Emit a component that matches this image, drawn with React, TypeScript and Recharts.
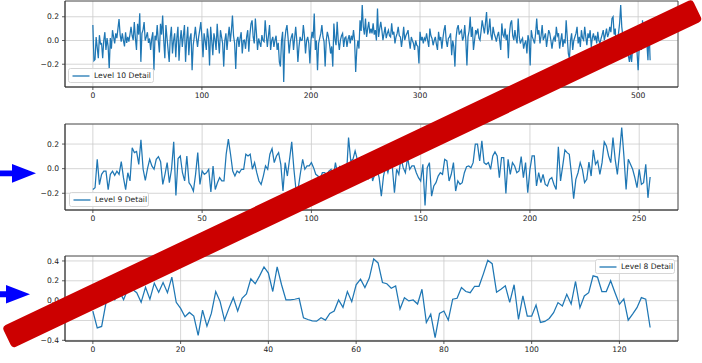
import React from "react";
import {
  CartesianGrid,
  Legend,
  Line,
  LineChart,
  ReferenceArea,
  XAxis,
  YAxis,
} from "recharts";

// detail coefficients, one list per level
const level10 = [
  0.13, -0.17, -0.16, 0.03, -0.06, -0.15, 0.045, -0.03, -0.025, -0.15,
  0.0, 0.07, -0.08, 0.02, -0.05, -0.24, 0.02, -0.07, 0.087, 0.03,
  -0.025, 0.06, 0.02, 0.1, 0.18, 0.05, -0.01, 0.06, 0.0, -0.05,
  0.07, -0.02, 0.03, -0.01, 0.05, 0.115, 0.04, 0.003, 0.155, 0.02,
  -0.08, 0.14, 0.05, 0.23, -0.18, 0.06, 0.09, 0.155, 0.0, 0.03,
  0.07, -0.02, 0.017, -0.08, 0.02, 0.07, -0.25, 0.04, 0.003, 0.13,
  0.0, -0.1, 0.14, 0.05, 0.21, 0.0, -0.15, 0.13, 0.02, -0.08,
  -0.18, 0.03, 0.115, -0.11, 0.0, 0.06, -0.14, 0.02, 0.115, -0.17,
  0.0, 0.087, -0.054, 0.04, 0.13, -0.18, 0.0, 0.115, -0.125, 0.02,
  0.06, -0.25, -0.04, 0.03, 0.115, 0.02, -0.054, 0.03, 0.087, 0.155,
  0.03, -0.14, 0.06, 0.0, -0.08, 0.1, 0.02, -0.21, 0.115, 0.0,
  -0.125, 0.06, 0.01, -0.08, 0.14, 0.0, -0.11, 0.087, 0.03, -0.025,
  -0.22, 0.0, 0.06, -0.08, 0.03, 0.115, -0.01, 0.08, 0.21, 0.04,
  -0.025, -0.24, 0.0, 0.03, -0.054, 0.02, 0.07, -0.11, 0.0, 0.003,
  -0.07, 0.03, 0.087, -0.095, 0.05, 0.14, 0.17, 0.03, -0.025, 0.186,
  0.06, -0.08, 0.017, -0.02, -0.054, 0.045, 0.0, -0.01, 0.17, 0.05,
  -0.054, 0.04, 0.13, -0.08, 0.0, 0.03, -0.054, 0.003, 0.04, -0.08,
  -0.02, -0.18, -0.22, 0.0, 0.073, -0.35, 0.0, 0.087, 0.13, 0.02,
  -0.11, -0.01, 0.03, 0.06, -0.08, 0.02, 0.115, 0.0, -0.18, -0.054,
  0.03, 0.0, 0.003, 0.13, 0.04, -0.11, 0.0, 0.03, -0.025, -0.194,
  0.0, 0.073, 0.02, 0.228, -0.08, 0.0, -0.25, -0.025, 0.02, 0.06,
  0.13, 0.03, -0.01, -0.22, 0.0, 0.073, 0.03, -0.03, -0.11, -0.05,
  -0.22, 0.144, 0.01, -0.04, 0.158, 0.0, -0.08, 0.003, 0.04, 0.06,
  -0.054, 0.02, 0.03, -0.054, 0.01, 0.045, -0.025, 0.04, 0.003, 0.087,
  0.0, -0.265, -0.08, 0.0, -0.068, 0.17, 0.08, 0.3, 0.115, 0.05,
  0.186, 0.03, 0.1, 0.158, 0.06, 0.1, 0.06, 0.144, 0.05, 0.087,
  0.0, 0.27, 0.03, 0.1, 0.158, 0.087, 0.003, 0.06, 0.115, 0.02,
  0.06, 0.087, 0.04, 0.03, 0.144, 0.05, 0.073, -0.025, 0.03, 0.06,
  0.115, 0.04, 0.03, -0.054, 0.02, 0.115, 0.003, 0.04, 0.06, 0.087,
  0.0, -0.068, 0.03, 0.0, -0.025, -0.08, 0.0, -0.04, -0.05, -0.194,
  0.073, 0.0, 0.03, -0.025, 0.02, 0.003, 0.06, 0.0, -0.054, 0.1,
  0.04, 0.017, -0.04, 0.0, 0.03, -0.03, -0.08, 0.073, 0.0, 0.03,
  -0.068, 0.02, 0.087, 0.13, 0.0, -0.054, 0.017, 0.03, 0.06, -0.124,
  0.0, -0.054, -0.22, 0.02, 0.1, 0.13, 0.05, 0.073, 0.087, 0.0,
  0.03, 0.13, 0.0, -0.21, 0.03, 0.08, 0.2, 0.03, 0.115, -0.08,
  0.0, 0.087, 0.06, 0.1, 0.02, 0.003, 0.08, 0.17, 0.115, 0.06,
  0.144, 0.24, 0.05, 0.087, 0.186, 0.05, 0.003, 0.115, 0.06, 0.03,
  -0.01, 0.04, 0.073, 0.0, -0.08, 0.144, 0.05, 0.03, 0.1, 0.003,
  0.05, -0.15, 0.06, 0.144, 0.17, 0.04, 0.003, 0.087, 0.02, -0.025,
  0.186, 0.03, -0.025, 0.003, 0.02, -0.068, -0.025, 0.0, -0.11, 0.045,
  0.0, -0.21, 0.087, 0.03, 0.003, -0.025, 0.06, 0.186, 0.05, 0.087,
  -0.025, 0.04, 0.13, 0.003, 0.03, 0.06, -0.054, 0.02, 0.087, 0.06,
  0.0, -0.068, 0.003, 0.03, -0.01, 0.115, 0.04, 0.06, -0.068, 0.0,
  0.06, -0.054, 0.01, -0.025, 0.17, 0.03, -0.11, -0.15, 0.0, 0.06,
  -0.08, 0.0, 0.03, 0.06, 0.115, -0.025, 0.03, -0.054, 0.087, 0.02,
  0.003, 0.115, 0.03, -0.04, 0.06, 0.02, 0.087, -0.054, 0.02, 0.06,
  0.003, 0.04, -0.025, 0.073, 0.0, -0.025, 0.017, 0.05, 0.087, 0.003,
  0.05, 0.1, 0.03, 0.06, 0.115, 0.07, 0.186, 0.2, 0.05, 0.1,
  -0.08, 0.02, 0.06, 0.144, 0.3, 0.115, 0.03, 0.0, -0.054, 0.003,
  -0.05, -0.124, -0.18, -0.1, -0.18, -0.054, 0.02, 0.06, 0.003, -0.1,
  -0.25, -0.054, -0.02, -0.08, 0.17, 0.05, 0.03, -0.054, -0.02, -0.166,
  0.1, -0.167,
];

const level9 = [
  -0.17, -0.155, 0.076, -0.13, -0.046, -0.02, -0.02, -0.17, -0.046, -0.02,
  -0.054, -0.02, -0.046, 0.057, -0.073, -0.17, -0.033, -0.1, 0.17, 0.13,
  0.14, 0.035, 0.234, -0.005, -0.095, 0.0, 0.076, 0.022, -0.005, 0.076,
  0.098, 0.057, -0.128, -0.046, 0.049, -0.114, -0.005, 0.218, -0.218, 0.082,
  0.103, -0.033, -0.1, 0.103, -0.114, -0.141, -0.182, -0.046, 0.13, -0.128,
  -0.019, -0.046, -0.033, -0.005, -0.19, 0.022, -0.169, -0.114, -0.073, -0.1,
  -0.1, 0.117, 0.24, 0.117, -0.019, -0.06, -0.019, -0.033, -0.005, -0.005,
  0.117, 0.103, 0.117, -0.005, 0.049, -0.033, -0.1, -0.128, -0.06, 0.022,
  -0.005, 0.117, 0.163, 0.049, 0.103, 0.13, 0.035, -0.182, 0.049, -0.06,
  0.076, 0.218, -0.005, -0.182, -0.155, -0.033, 0.076, -0.005, 0.022, 0.022,
  0.049, 0.008, -0.046, -0.06, -0.087, -0.033, -0.033, -0.046, -0.02, -0.005,
  -0.073, 0.049, -0.046, 0.022, -0.06, -0.02, -0.073, 0.253, 0.063, 0.076,
  0.144, 0.076, -0.005, 0.103, -0.06, 0.022, -0.087, 0.049, -0.1, -0.046,
  -0.005, -0.073, -0.223, -0.06, 0.022, -0.033, 0.049, 0.022, -0.196, -0.005,
  -0.046, 0.09, 0.008, -0.033, 0.09, -0.005, 0.022, 0.022, -0.033, -0.073,
  -0.1, 0.035, -0.3, 0.008, 0.049, -0.223, -0.141, -0.114, -0.06, -0.033,
  -0.046, 0.076, 0.063, -0.1, -0.046, 0.049, -0.182, -0.1, -0.128, -0.114,
  -0.033, 0.016, 0.022, 0.008, 0.049, 0.2, 0.2, 0.063, 0.226, 0.049,
  0.035, 0.049, -0.005, 0.103, 0.136, 0.103, -0.073, 0.09, 0.09, -0.201,
  0.076, -0.046, 0.049, 0.022, -0.033, -0.019, 0.098, -0.073, 0.049, -0.196,
  -0.005, 0.103, 0.103, -0.141, -0.033, -0.114, -0.046, -0.128, -0.141, -0.087,
  -0.073, -0.128, -0.169, 0.177, -0.1, 0.022, 0.152, 0.13, 0.117, -0.046,
  -0.245, -0.087, -0.033, 0.049, -0.005, -0.114, -0.087, 0.054, -0.06, 0.152,
  0.035, 0.063, -0.046, 0.049, 0.218, 0.185, 0.103, 0.049, 0.253, 0.076,
  -0.046, 0.13, 0.335, 0.103, -0.169, 0.076, 0.035, -0.005, -0.073, -0.155,
  -0.005, -0.128, -0.114, 0.035, -0.237, -0.068,
];

const level8 = [
  -0.105, -0.275, -0.26, -0.02, 0.08, 0.01, 0.1, 0.01, 0.12, 0.115,
  0.08, -0.017, 0.135, 0.014, 0.176, 0.085, 0.183, 0.08, 0.237, -0.017,
  -0.078, -0.163, -0.119, -0.156, -0.35, -0.095, -0.258, -0.129, 0.092, -0.01,
  -0.197, -0.078, 0.03, -0.105, 0.024, 0.068, 0.22, 0.17, 0.25, 0.34,
  0.278, 0.092, 0.34, 0.16, 0.007, 0.007, 0.014, 0.024, -0.173, -0.19,
  -0.203, -0.207, -0.173, -0.197, -0.129, -0.105, 0.007, -0.068, 0.092, -0.01,
  0.16, 0.217, 0.132, 0.227, 0.42, 0.38, 0.183, 0.17, 0.125, 0.149,
  -0.085, 0.03, -0.003, 0.007, -0.034, 0.115, -0.22, -0.136, -0.373, -0.129,
  -0.105, -0.197, 0.014, 0.024, 0.132, 0.092, 0.08, 0.145, 0.145, 0.27,
  0.407, 0.373, 0.085, 0.115, 0.15, -0.017, 0.16, -0.19, 0.047, -0.156,
  -0.156, -0.044, -0.22, -0.21, -0.18, -0.122, -0.02, -0.054, 0.064, -0.034,
  0.193, -0.071, 0.047, 0.08, 0.25, 0.237, 0.092, 0.092, 0.2, 0.08,
  -0.037, 0.017, -0.197, -0.136, -0.071, 0.03, 0.014, -0.271,
];

const xTicks10 = [0, 100, 200, 300, 400, 500];
const xTicks9 = [0, 50, 100, 150, 200, 250];
const xTicks8 = [0, 20, 40, 60, 80, 100, 120];
const yTicksSmall = [-0.2, 0, 0.2];
const yTicksWide = [-0.4, -0.2, 0, 0.2, 0.4];

const fontFamily = "DejaVu Sans, sans-serif";
const fontSize = 7.6;
const fontColor = "#222";
const lineColor = "#1f77b4";
const spineColor = "#333";
const gridColor = "#cccccc";

const fmtY = (v: number) => (v < 0 ? "\u2212" : "") + Math.abs(v).toFixed(1);

interface LegendProps {
  label: string;
  width: number;
}

const LegendBox = ({ label, width }: LegendProps) => (
  <div
    style={{
      width,
      height: 15,
      boxSizing: "border-box",
      border: "1px solid #d6d6d6",
      borderRadius: 2.5,
      background: "rgba(255,255,255,0.85)",
      display: "flex",
      alignItems: "center",
      fontFamily,
      fontSize,
      color: fontColor,
      whiteSpace: "nowrap",
    }}
  >
    <svg width={18} height={4} style={{ marginLeft: 3, marginRight: 4 }}>
      <line x1={0.5} y1={2} x2={17.5} y2={2} stroke={lineColor} strokeWidth={1.3} />
    </svg>
    <span style={{ lineHeight: 1 }}>{label}</span>
  </div>
);

interface PanelProps {
  values: number[];
  label: string;
  top: number;
  marginTop: number;
  plotHeight: number;
  xDomain: [number, number];
  xTicks: number[];
  yDomain: [number, number];
  yTicks: number[];
  legendLeft: number;
  legendTop: number;
  legendWidth: number;
}

const Panel = (props: PanelProps) => {
  const {
    values, label, top, marginTop, plotHeight, xDomain, xTicks,
    yDomain, yTicks, legendLeft, legendTop, legendWidth,
  } = props;
  const data = values.map((v, i) => ({ i, v }));
  const height = marginTop + plotHeight + 20;
  const tick = { fill: fontColor, fontFamily, fontSize };

  return (
    <div style={{ position: "absolute", left: 0, top, width: 702, height }}>
      <LineChart
        width={702}
        height={height}
        data={data}
        margin={{ top: marginTop, right: 24, bottom: 0, left: 0 }}
      >
        <CartesianGrid stroke={gridColor} strokeWidth={0.8} />
        <XAxis
          dataKey="i"
          type="number"
          domain={xDomain}
          ticks={xTicks}
          allowDataOverflow
          interval={0}
          height={20}
          tick={tick}
          tickSize={3}
          tickMargin={3}
          tickLine={{ stroke: spineColor, strokeWidth: 0.8 }}
          axisLine={{ stroke: spineColor, strokeWidth: 0.8 }}
        />
        <YAxis
          type="number"
          domain={yDomain}
          ticks={yTicks}
          allowDataOverflow
          interval={0}
          width={65}
          tick={tick}
          tickSize={3}
          tickMargin={3}
          tickFormatter={fmtY}
          tickLine={{ stroke: spineColor, strokeWidth: 0.8 }}
          axisLine={{ stroke: spineColor, strokeWidth: 0.8 }}
        />
        <ReferenceArea
          x1={xDomain[0]}
          x2={xDomain[1]}
          y1={yDomain[0]}
          y2={yDomain[1]}
          fill="none"
          stroke={spineColor}
          strokeWidth={0.8}
          ifOverflow="visible"
        />
        <Line
          dataKey="v"
          type="linear"
          stroke={lineColor}
          strokeWidth={1.25}
          dot={false}
          activeDot={false}
          isAnimationActive={false}
        />
        <Legend
          layout="vertical"
          align="center"
          verticalAlign="middle"
          content={() => <LegendBox label={label} width={legendWidth} />}
          wrapperStyle={{ left: legendLeft, top: legendTop, width: legendWidth }}
        />
      </LineChart>
    </div>
  );
};

// hand drawn marks on top of the figure
const Overlay = () => {
  const cx = 352.25;
  const cy = 173.75;
  const len = 764;
  const thick = 24;
  return (
    <svg
      width={702}
      height={363}
      style={{ position: "absolute", left: 0, top: 0, pointerEvents: "none" }}
    >
      <polygon points="0,170.5 12,170.5 12,164 36,173.3 12,182.7 12,176.3 0,176.3" fill="#0000ff" />
      <polygon points="0,291.3 6,291.3 6,285 30,294.2 6,303.4 6,297.2 0,297.2" fill="#0000ff" />
      <rect
        x={cx - len / 2}
        y={cy - thick / 2}
        width={len}
        height={thick}
        rx={4}
        fill="#cc0000"
        transform={`rotate(-25.4 ${cx} ${cy})`}
      />
    </svg>
  );
};

export default function App() {
  return (
    <div
      style={{
        position: "absolute",
        left: 0,
        top: 0,
        width: 702,
        height: 363,
        background: "#fff",
        overflow: "hidden",
      }}
    >
      <Panel
        values={level10}
        label="Level 10 Detail"
        top={0}
        marginTop={1}
        plotHeight={86}
        xDomain={[-25.55, 536.55]}
        xTicks={xTicks10}
        yDomain={[-0.392, 0.333]}
        yTicks={yTicksSmall}
        legendLeft={68}
        legendTop={68}
        legendWidth={86}
      />
      <Panel
        values={level9}
        label="Level 9 Detail"
        top={110}
        marginTop={14}
        plotHeight={86}
        xDomain={[-12.75, 267.75]}
        xTicks={xTicks9}
        yDomain={[-0.336, 0.363]}
        yTicks={yTicksSmall}
        legendLeft={69}
        legendTop={82}
        legendWidth={80}
      />
      <Panel
        values={level8}
        label="Level 8 Detail"
        top={240}
        marginTop={16}
        plotHeight={85}
        xDomain={[-6.35, 133.35]}
        xTicks={xTicks8}
        yDomain={[-0.407, 0.45]}
        yTicks={yTicksWide}
        legendLeft={595}
        legendTop={19}
        legendWidth={80}
      />
      <Overlay />
    </div>
  );
}
